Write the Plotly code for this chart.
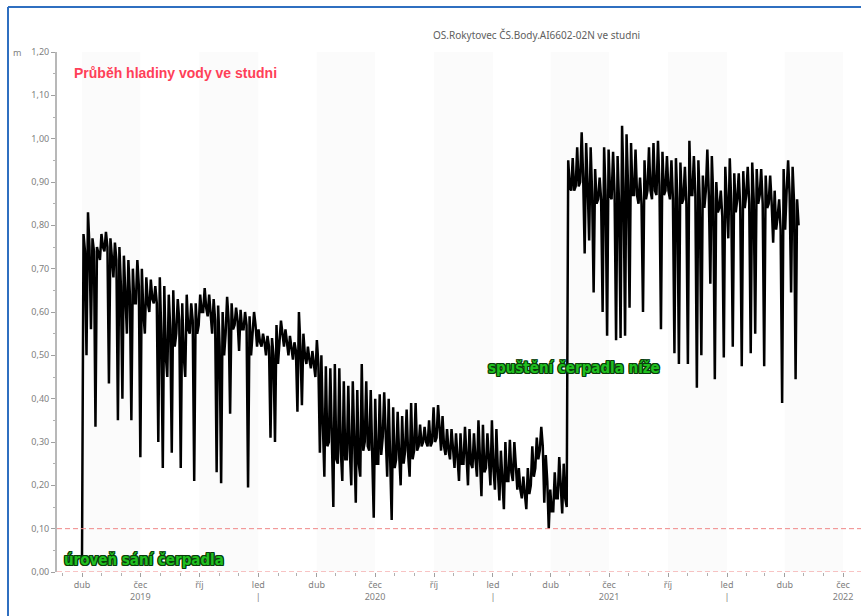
import pandas as pd
import plotly.graph_objects as go

# ---------------- data ----------------
# weekly samples starting 2019-04-01 (water level, m)
#   low  : deepest dip of the week
#   top  : daily maximum level of the week
#   base : typical daily minimum of the week (lower edge of the dense band)
week_start = pd.date_range("2019-04-01", periods=160, freq="7D")

low = [
    0.03, 0.50, 0.56, 0.335, 0.72, 0.74, 0.435, 0.68, 0.35, 0.40,
    0.55, 0.35, 0.62, 0.265, 0.55, 0.60, 0.62, 0.30, 0.24, 0.45,
    0.275, 0.55, 0.24, 0.45, 0.55, 0.21, 0.57, 0.60, 0.59, 0.55,
    0.23, 0.205, 0.55, 0.365, 0.57, 0.51, 0.56, 0.195, 0.55, 0.52,
    0.52, 0.50, 0.31, 0.30, 0.53, 0.52, 0.50, 0.49, 0.37, 0.385,
    0.48, 0.47, 0.45, 0.275, 0.22, 0.30, 0.15, 0.25, 0.21, 0.26,
    0.20, 0.16, 0.22, 0.30, 0.28, 0.125, 0.25, 0.31, 0.22, 0.12,
    0.26, 0.20, 0.28, 0.22, 0.28, 0.29, 0.30, 0.29, 0.30, 0.31,
    0.28, 0.27, 0.26, 0.24, 0.21, 0.25, 0.20, 0.24, 0.22, 0.175,
    0.24, 0.20, 0.19, 0.165, 0.145, 0.21, 0.21, 0.19, 0.17, 0.145,
    0.20, 0.24, 0.28, 0.16, 0.10, 0.14, 0.17, 0.135, 0.15, 0.88,
    0.89, 0.90, 0.735, 0.765, 0.645, 0.86, 0.60, 0.545, 0.86, 0.535,
    0.54, 0.545, 0.61, 0.87, 0.85, 0.60, 0.88, 0.86, 0.87, 0.56,
    0.88, 0.86, 0.505, 0.48, 0.86, 0.48, 0.87, 0.425, 0.50, 0.88,
    0.665, 0.445, 0.84, 0.495, 0.77, 0.52, 0.86, 0.475, 0.87, 0.505,
    0.55, 0.87, 0.475, 0.85, 0.76, 0.82, 0.39, 0.88, 0.645, 0.445,
]

top = [
    0.78, 0.83, 0.77, 0.75, 0.78, 0.785, 0.77, 0.76, 0.75, 0.73,
    0.72, 0.70, 0.72, 0.70, 0.68, 0.675, 0.66, 0.68, 0.66, 0.64,
    0.65, 0.63, 0.62, 0.64, 0.62, 0.62, 0.64, 0.655, 0.64, 0.63,
    0.615, 0.60, 0.635, 0.62, 0.61, 0.605, 0.60, 0.59, 0.60, 0.56,
    0.55, 0.545, 0.54, 0.57, 0.58, 0.56, 0.545, 0.53, 0.60, 0.55,
    0.52, 0.51, 0.535, 0.50, 0.475, 0.47, 0.48, 0.47, 0.44, 0.43,
    0.44, 0.42, 0.48, 0.44, 0.42, 0.40, 0.41, 0.415, 0.40, 0.38,
    0.37, 0.36, 0.375, 0.39, 0.39, 0.34, 0.335, 0.35, 0.38, 0.385,
    0.36, 0.33, 0.33, 0.32, 0.32, 0.335, 0.33, 0.32, 0.35, 0.34,
    0.32, 0.35, 0.33, 0.28, 0.30, 0.305, 0.30, 0.24, 0.22, 0.24,
    0.29, 0.31, 0.335, 0.27, 0.19, 0.23, 0.265, 0.25, 0.95, 0.955,
    0.98, 1.015, 0.99, 0.98, 0.93, 0.91, 0.98, 0.975, 0.97, 0.96,
    1.03, 1.01, 0.99, 0.975, 0.91, 0.95, 0.98, 0.99, 0.995, 0.97,
    0.96, 0.95, 0.955, 0.945, 0.935, 0.995, 0.96, 0.95, 0.915, 0.975,
    0.96, 0.90, 0.88, 0.935, 0.955, 0.92, 0.92, 0.925, 0.935, 0.945,
    0.93, 0.93, 0.915, 0.915, 0.88, 0.86, 0.93, 0.95, 0.935, 0.86,
]

base = [
    0.74, 0.75, 0.74, 0.73, 0.75, 0.75, 0.73, 0.72, 0.66, 0.62,
    0.64, 0.62, 0.66, 0.60, 0.62, 0.63, 0.62, 0.55, 0.50, 0.56,
    0.52, 0.58, 0.50, 0.56, 0.58, 0.55, 0.60, 0.61, 0.60, 0.58,
    0.52, 0.50, 0.58, 0.56, 0.58, 0.56, 0.57, 0.50, 0.57, 0.53,
    0.53, 0.52, 0.50, 0.48, 0.55, 0.53, 0.52, 0.51, 0.52, 0.50,
    0.49, 0.48, 0.48, 0.34, 0.29, 0.31, 0.26, 0.28, 0.26, 0.28,
    0.26, 0.25, 0.28, 0.29, 0.27, 0.25, 0.27, 0.30, 0.27, 0.24,
    0.27, 0.25, 0.27, 0.26, 0.28, 0.29, 0.30, 0.29, 0.30, 0.32,
    0.29, 0.28, 0.27, 0.26, 0.25, 0.27, 0.25, 0.26, 0.26, 0.23,
    0.26, 0.24, 0.23, 0.20, 0.21, 0.23, 0.23, 0.19, 0.18, 0.18,
    0.22, 0.26, 0.29, 0.21, 0.14, 0.17, 0.20, 0.17, 0.89, 0.88,
    0.89, 0.91, 0.89, 0.87, 0.85, 0.86, 0.87, 0.87, 0.87, 0.85,
    0.89, 0.89, 0.87, 0.87, 0.85, 0.86, 0.88, 0.88, 0.89, 0.87,
    0.88, 0.86, 0.86, 0.85, 0.85, 0.87, 0.87, 0.85, 0.84, 0.87,
    0.86, 0.83, 0.82, 0.84, 0.85, 0.83, 0.84, 0.84, 0.85, 0.86,
    0.85, 0.85, 0.84, 0.85, 0.79, 0.79, 0.79, 0.87, 0.85, 0.80,
]

quarter_ticks = pd.date_range("2019-04-01", "2022-07-01", freq="QS-JAN")
month_names = {1: "led", 4: "dub", 7: "čec", 10: "říj"}
tick_text = []
for d in quarter_ticks:
    t = month_names[d.month]
    if d.month == 7:
        t += "<br>" + str(d.year)
    elif d.month == 1:
        t += "<br>|"
    tick_text.append(t)

y_ticks = [0.0, 0.1, 0.2, 0.3, 0.4, 0.5, 0.6, 0.7, 0.8, 0.9, 1.0, 1.1, 1.2]

pump_level = 0.10
chart_title = "OS.Rokytovec ČS.Body.AI6602-02N ve studni"
# ---------------------------------------------------------------

xs, ys = [], []
for d, lo, hi, ba in zip(week_start, low, top, base):
    xs += [d, d + pd.Timedelta(hours=56), d + pd.Timedelta(hours=112)]
    ys += [lo, hi, ba]

fig = go.Figure()

# faint alternating quarter bands
for d in quarter_ticks:
    if d.month in (4, 10):
        fig.add_vrect(x0=d, x1=d + pd.offsets.QuarterBegin(startingMonth=1),
                      fillcolor="#fbfbfb", line_width=0, layer="below")

fig.add_trace(go.Scatter(x=xs, y=ys, mode="lines",
                         line=dict(color="black", width=2.5),
                         hoverinfo="skip", showlegend=False))

for yv in (pump_level, 0.0):
    fig.add_hline(y=yv, line=dict(color="#f08888", width=1, dash="5px,3px"))

tick_font = dict(family="Noto Sans, Open Sans, sans-serif", size=9, color="#808080")

fig.update_xaxes(
    range=["2019-02-21", "2022-07-29"],
    tickvals=list(quarter_ticks), ticktext=tick_text,
    ticks="outside", ticklen=4, tickcolor="#a0a0a0",
    showgrid=False, showline=False, zeroline=False,
    tickfont=tick_font,
    minor=dict(dtick="M1", tick0="2019-01-01", ticks="outside", ticklen=3, tickcolor="#b0b0b0"),
)
fig.update_yaxes(
    range=[0, 1.2], tickvals=y_ticks, tickformat=".2f",
    ticks="outside", ticklen=4, tickcolor="#a0a0a0",
    showline=True, linecolor="#b8b8b8", linewidth=2,
    showgrid=False, zeroline=False, tickfont=tick_font,
    minor=dict(dtick=0.05, ticks="outside", ticklen=2, tickcolor="#b0b0b0"),
)

W, H = 861, 616
L, R, T, B = 57, 0, 52, 44
pw, ph = W - L - R, H - T - B


def px(xp):
    return (xp - L) / pw


def py(yp):
    return (H - B - yp) / ph


outline = "#0b3d0b"
shadow = (f"1px 1px 0 {outline}, -1px -1px 0 {outline}, 1px -1px 0 {outline}, "
          f"-1px 1px 0 {outline}, 0 1px 0 {outline}, 0 -1px 0 {outline}, "
          f"1px 0 0 {outline}, -1px 0 0 {outline}")
green_font = dict(family="Liberation Sans Narrow, DejaVu Sans Condensed, Liberation Sans, sans-serif",
                  size=15, color="#1fbf1f", weight="bold", shadow=shadow)

annotations = [
    dict(text=chart_title, x=px(536), y=py(35), xanchor="center", yanchor="middle",
         font=dict(family="Noto Sans, Open Sans, sans-serif", size=10, color="#606060")),
    dict(text="m", x=px(17), y=py(52), xanchor="center", yanchor="middle",
         font=dict(family="Noto Sans, sans-serif", size=9, color="#808080")),
    dict(text="Průběh hladiny vody ve studni", x=px(72), y=py(73), xanchor="left", yanchor="middle",
         font=dict(family="Liberation Sans, Arial, sans-serif", size=14, color="#ff4058", weight="bold")),
    dict(text="úroveň sání čerpadla", x=px(62), y=py(560), xanchor="left", yanchor="middle",
         font=green_font),
    dict(text="spuštění čerpadla níže", x=px(486), y=py(368), xanchor="left", yanchor="middle",
         font=green_font),
]
for a in annotations:
    a.update(xref="paper", yref="paper", showarrow=False)

border = "#2f6fc0"
shapes = [
    dict(type="line", xref="paper", yref="paper", x0=px(8), x1=px(8), y0=py(640), y1=py(7),
         line=dict(color=border, width=2)),
    dict(type="line", xref="paper", yref="paper", x0=px(8), x1=px(900), y0=py(7), y1=py(7),
         line=dict(color=border, width=2)),
]

fig.update_layout(
    width=W, height=H,
    margin=dict(l=L, r=R, t=T, b=B),
    paper_bgcolor="white", plot_bgcolor="white",
    separators=", ",
    annotations=annotations,
    showlegend=False,
)
for s in shapes:
    fig.add_shape(**s)

fig.write_html("out.html", config={"displayModeBar": False},
               post_script="document.body.style.margin='0px';")
